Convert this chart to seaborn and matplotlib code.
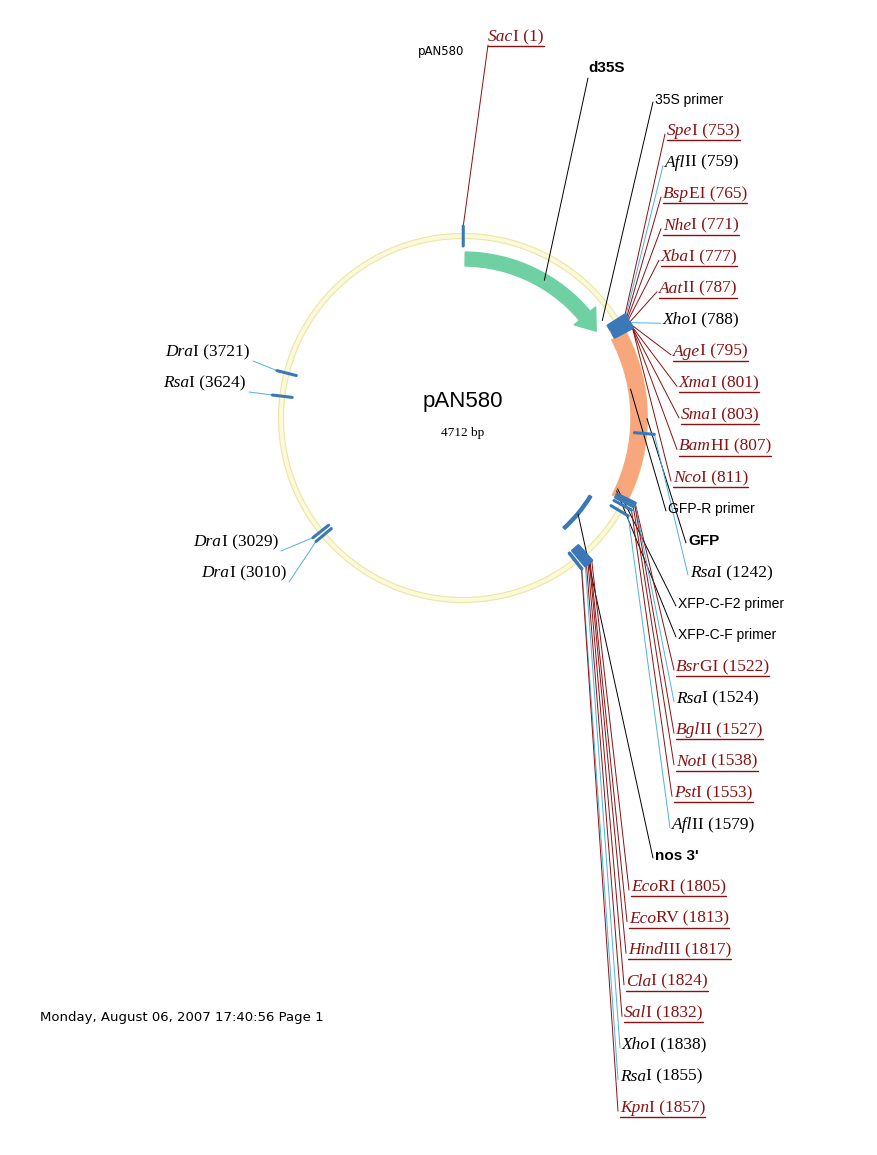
import numpy as np
import matplotlib
matplotlib.use("Agg")
import matplotlib.pyplot as plt
import seaborn as sns
from matplotlib.patches import Wedge, Polygon

sns.set_theme(style="white")
plt.rcParams['font.family'] = ['DejaVu Sans']
plt.rcParams['text.color'] = 'black'

plasmid = "pAN580"
total_bp = 4712

# restriction sites: name, position, unique (red, underlined)
right_names = ["SpeI", "AflII", "BspEI", "NheI", "XbaI", "AatII", "XhoI", "AgeI",
               "XmaI", "SmaI", "BamHI", "NcoI"]
right_pos = [753, 759, 765, 771, 777, 787, 788, 795, 801, 803, 807, 811]
right_unique = [1, 0, 1, 1, 1, 1, 0, 1, 1, 1, 1, 1]

mid_names = ["BsrGI", "RsaI", "BglII", "NotI", "PstI", "AflII"]
mid_pos = [1522, 1524, 1527, 1538, 1553, 1579]
mid_unique = [1, 0, 1, 1, 1, 0]

low_names = ["EcoRI", "EcoRV", "HindIII", "ClaI", "SalI", "XhoI", "RsaI", "KpnI"]
low_pos = [1805, 1813, 1817, 1824, 1832, 1838, 1855, 1857]
low_unique = [1, 1, 1, 1, 1, 0, 0, 1]

left_names = ["DraI", "RsaI", "DraI", "DraI"]
left_pos = [3721, 3624, 3029, 3010]

# features: name, start, end
feat_names = ["d35S", "GFP", "nos 3'"]
feat_start = [10, 815, 1590]
feat_end = [745, 1535, 1800]
primer_names = ["35S primer", "GFP-R primer", "XFP-C-F2 primer", "XFP-C-F primer"]
primer_pos = [720, 1050, 1500, 1510]

CX, CY, R = 463, 418, 182
RED = "#8b1010"
BLUE = "#3a78b8"
LBLUE = "#4fb0e0"

fig = plt.figure(figsize=(8.78, 11.55), dpi=100)
ax = fig.add_axes([0, 0, 1, 1])
ax.set_xlim(0, 878)
ax.set_ylim(1155, 0)
ax.axis("off")


def pt(pos, r):
    a = np.deg2rad(pos / total_bp * 360.0)
    return CX + r * np.sin(a), CY - r * np.cos(a)


def deg(pos):
    return pos / total_bp * 360.0 - 90


# backbone ring: pale double line
th = np.linspace(0, 2 * np.pi, 400)
ax.plot(CX + R * np.cos(th), CY + R * np.sin(th), color="#fbf9dc", lw=4, zorder=1)
for rr in (R - 2.5, R + 2.5):
    ax.plot(CX + rr * np.cos(th), CY + rr * np.sin(th), color="#ece7a0", lw=0.8, zorder=1)

# features
ax.add_patch(Wedge((CX, CY), 166, deg(feat_start[0]), deg(feat_end[0] - 90), width=14,
                   color="#6fd0a4", zorder=2))
tip = [pt(feat_end[0] - 90, 173), pt(feat_end[0], 159), pt(feat_end[0] - 90, 145)]
ax.add_patch(Polygon(tip, closed=True, color="#6fd0a4", zorder=2))
ax.add_patch(Wedge((CX, CY), 184, deg(feat_start[1]), deg(feat_end[1]), width=16,
                   color="#f8a77c", zorder=2))
ax.add_patch(Wedge((CX, CY), 151, deg(feat_start[2]), deg(feat_end[2]), width=3,
                   color=BLUE, zorder=2))

# site ticks
for p in right_pos + mid_pos + low_pos + left_pos + [1, 1242]:
    x0, y0 = pt(p, R - 10)
    x1, y1 = pt(p, R + 10)
    ax.plot([x0, x1], [y0, y1], color=BLUE, lw=2.2, zorder=3)

renderer = fig.canvas.get_renderer()
inv = ax.transData.inverted()


def enzyme_label(x, y, name, pos, unique, ha="left"):
    k = 4 if name.startswith("Hind") else 3
    col = RED if unique else "black"
    fs = 12.5
    t1 = ax.text(x, y, name[:k], fontsize=fs, family="Liberation Serif", style="italic",
                 color=col, va="center", ha="left")
    bb = t1.get_window_extent(renderer)
    w1 = inv.transform((bb.x1, 0))[0] - inv.transform((bb.x0, 0))[0]
    t2 = ax.text(x + w1, y, f"{name[k:]} ({pos})", fontsize=fs, family="Liberation Serif",
                 color=col, va="center", ha="left")
    bb2 = t2.get_window_extent(renderer)
    w2 = inv.transform((bb2.x1, 0))[0] - inv.transform((bb2.x0, 0))[0]
    if ha == "right":
        t1.set_x(x - w1 - w2)
        t2.set_x(x - w2)
        x = x - w1 - w2
    if unique:
        ax.plot([x, x + w1 + w2], [y + 9, y + 9], color=col, lw=1)
    return x


def connector(p, r, lx, ly, color):
    x0, y0 = pt(p, r)
    ax.plot([x0, lx], [y0, ly], color=color, lw=0.7, zorder=2)


# SacI at top
enzyme_label(488, 37, "SacI", 1, 1)
connector(1, R + 10, 488, 45, RED)
ax.text(418, 52, plasmid, fontsize=8.5, va="center")

# d35S / 35S primer
ax.text(588, 68, feat_names[0], fontsize=11, weight="bold", va="center", family="Liberation Sans")
connector(400, 160, 588, 78, "black")
ax.text(655, 100, primer_names[0], fontsize=10, va="center", family="Liberation Sans")
connector(primer_pos[0], R - 12, 653, 102, "black")

right_x = [667, 665, 663, 663, 661, 659, 663, 673, 679, 681, 679, 673]
for i, (n, p, u) in enumerate(zip(right_names, right_pos, right_unique)):
    y = 131 + 31.55 * i
    enzyme_label(right_x[i], y, n, p, u)
    connector(p, R + 10, right_x[i] - 2, y + 3, RED if u else LBLUE)

ax.text(668, 509, primer_names[1], fontsize=10, va="center", family="Liberation Sans")
connector(primer_pos[1], R - 12, 666, 511, "black")
ax.text(688, 541, feat_names[1], fontsize=11, weight="bold", va="center", family="Liberation Sans")
connector(1180, 184, 686, 543, "black")
enzyme_label(690, 573, "RsaI", 1242, 0)
connector(1242, R + 10, 688, 575, LBLUE)
ax.text(678, 604, primer_names[2], fontsize=10, va="center", family="Liberation Sans")
connector(primer_pos[2], R - 12, 676, 606, "black")
ax.text(678, 635, primer_names[3], fontsize=10, va="center", family="Liberation Sans")
connector(primer_pos[3], R - 12, 676, 637, "black")

mid_x = [676, 676, 676, 676, 674, 672]
for i, (n, p, u) in enumerate(zip(mid_names, mid_pos, mid_unique)):
    y = 667 + 31.6 * i
    enzyme_label(mid_x[i], y, n, p, u)
    connector(p, R + 10, mid_x[i] - 2, y + 3, RED if u else LBLUE)

ax.text(655, 856, feat_names[2], fontsize=11, weight="bold", va="center", family="Liberation Sans")
connector(1700, 150, 653, 858, "black")

low_x = [631, 629, 628, 626, 624, 622, 620, 620]
for i, (n, p, u) in enumerate(zip(low_names, low_pos, low_unique)):
    y = 887 + 31.6 * i
    enzyme_label(low_x[i], y, n, p, u)
    connector(p, R + 10, low_x[i] - 2, y + 3, RED if u else LBLUE)

# left side
left_xy = [(250, 352), (246, 383), (278, 542), (286, 573)]
for (lx, ly), n, p in zip(left_xy, left_names, left_pos):
    enzyme_label(lx, ly, n, p, 0, ha="right")
    connector(p, R + 10, lx + 3, ly + 9, LBLUE)

# center
ax.text(CX, 401, plasmid, fontsize=16, ha="center", va="center", family="Liberation Sans")
ax.text(CX, 433, f"{total_bp} bp", fontsize=9.5, ha="center", va="center", family="Liberation Serif")

ax.text(40, 1018, "Monday, August 06, 2007 17:40:56 Page 1", fontsize=9.5, va="center")

fig.savefig("out.png", dpi=100)
